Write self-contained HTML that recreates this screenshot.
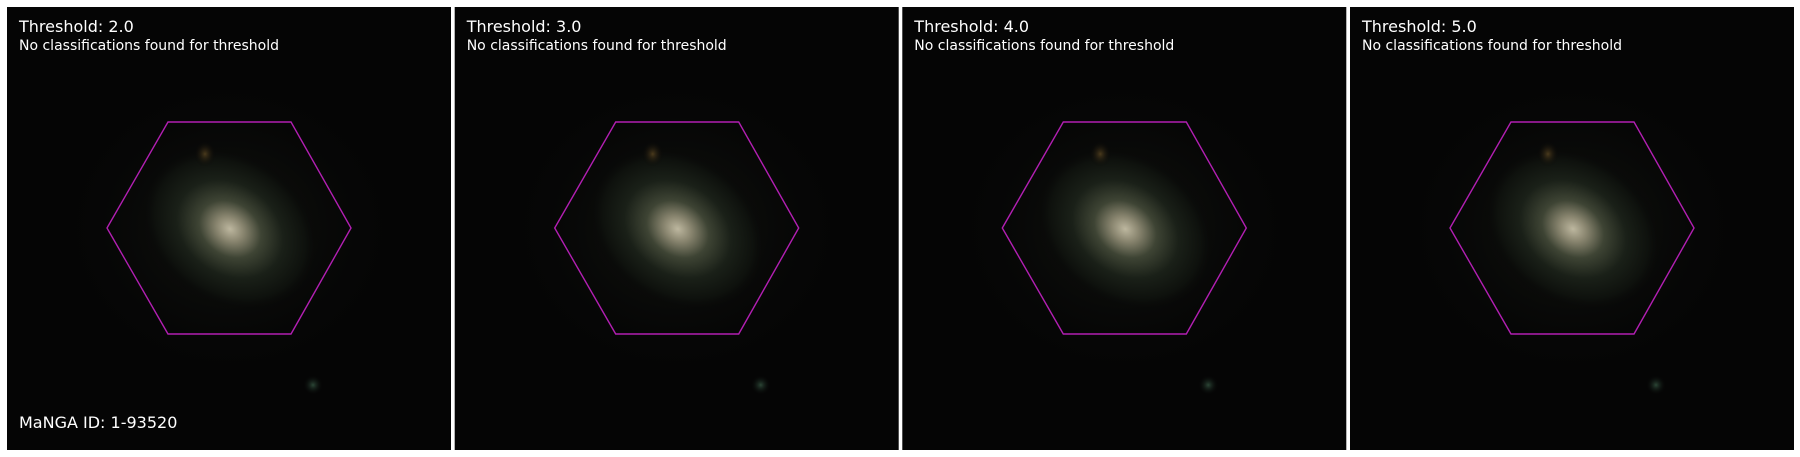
<!DOCTYPE html>
<html><head><meta charset="utf-8"><style>
html,body{margin:0;padding:0;background:#fff;width:1800px;height:457px;overflow:hidden}
svg{display:block}
text{font-family:"DejaVu Sans","Liberation Sans",sans-serif;fill:#fff}
</style></head><body>
<svg id="fig" width="1800" height="457" viewBox="0 0 1800 457">
<defs>
<radialGradient id="gal" cx="0.5" cy="0.5" r="0.5">
<stop offset="0" stop-color="#bdb79f"/>
<stop offset="0.15" stop-color="#8a8670"/>
<stop offset="0.35" stop-color="#3e4434"/>
<stop offset="0.6" stop-color="#1a2018"/>
<stop offset="0.85" stop-color="#0e110d"/>
<stop offset="1" stop-color="#070707" stop-opacity="0"/>
</radialGradient>
<radialGradient id="halo" cx="0.5" cy="0.5" r="0.5">
<stop offset="0" stop-color="#151812"/>
<stop offset="1" stop-color="#060606" stop-opacity="0"/>
</radialGradient>
<radialGradient id="star" cx="0.5" cy="0.5" r="0.5">
<stop offset="0" stop-color="#2c4636"/>
<stop offset="1" stop-color="#060606" stop-opacity="0"/>
</radialGradient>
<radialGradient id="star2" cx="0.5" cy="0.5" r="0.5">
<stop offset="0" stop-color="#4a3a1c"/>
<stop offset="1" stop-color="#060606" stop-opacity="0"/>
</radialGradient>
</defs>
<g id="panels"></g>
</svg>
<script>
const thresholds = ["2.0","3.0","4.0","5.0"];
const subtitle = "No classifications found for threshold";
const mangaId = "1-93520";
const panelLefts = [7, 454.7, 902.3, 1350];
const ns = "http://www.w3.org/2000/svg";
const g = document.getElementById('panels');
function mk(tag, attrs, parent){const e=document.createElementNS(ns,tag);for(const k in attrs)e.setAttribute(k,attrs[k]);parent.appendChild(e);return e;}
thresholds.forEach((t,i)=>{
  const x0 = panelLefts[i], y0 = 7, W = 444, H = 443;
  const p = mk('g',{transform:`translate(${x0},${y0})`},g);
  
  
  const bg = mk('rect',{x:0,y:0,width:W,height:H,fill:'#050505'},p);
  
  
  mk('ellipse',{cx:222,cy:221,rx:170,ry:150,fill:'url(#halo)'},p);
  const gal = mk('ellipse',{cx:223,cy:222,rx:95,ry:75,fill:'url(#gal)',transform:'rotate(35 223 222)'},p);
  
  
  mk('ellipse',{cx:198,cy:147,rx:11,ry:13,fill:'url(#star2)'},p);
  mk('ellipse',{cx:306,cy:378,rx:10,ry:10,fill:'url(#star)'},p);
  const hex = mk('polygon',{points:'100,221 161,115 284,115 344,221 284,327 161,327',fill:'none',stroke:'#b21fb2','stroke-width':1.4},p);
  
  
  const tt = mk('text',{x:12,y:25,'font-size':16},p);
  tt.textContent = 'Threshold: ' + t;
  
  
  const st = mk('text',{x:12,y:43,'font-size':14},p);
  st.textContent = subtitle;
  
  
  if(i===0){
    const id = mk('text',{x:12,y:421,'font-size':16},p);
    id.textContent = 'MaNGA ID: ' + mangaId;
    
    
  }
});
</script>
</body></html>
